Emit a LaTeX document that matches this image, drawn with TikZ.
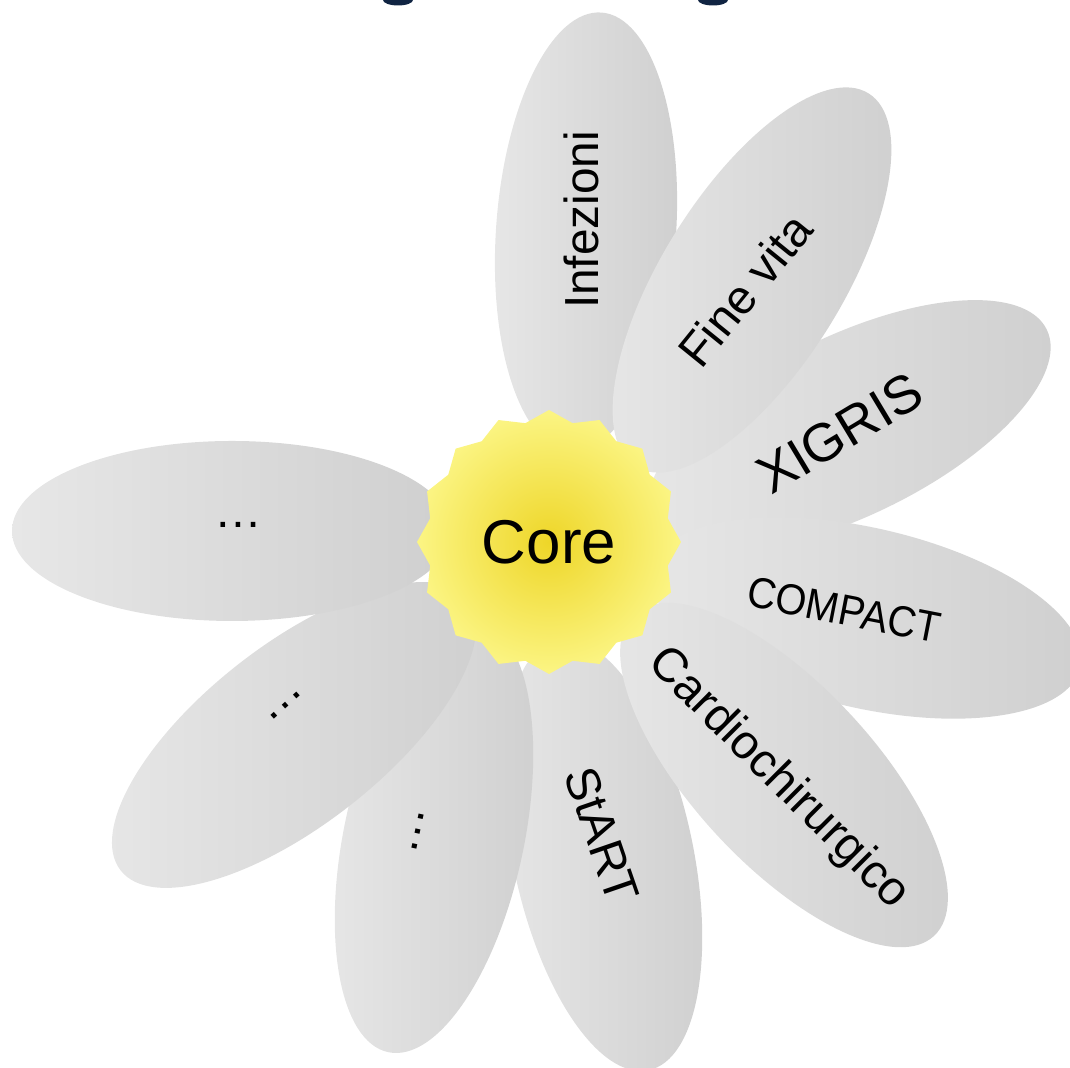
\documentclass[tikz,border=0pt]{standalone}
\usepackage{fontspec}
\setmainfont{Liberation Sans}
\usetikzlibrary{positioning,shapes.geometric}

\definecolor{petalLight}{RGB}{231,231,231}
\definecolor{petalDark}{RGB}{207,207,207}
\definecolor{coreIn}{RGB}{238,214,40}
\definecolor{coreOut}{RGB}{254,251,150}
\definecolor{titleBlue}{RGB}{16,36,66}

\pgfdeclareradialshading{coreglow}{\pgfpoint{0bp}{0bp}}{color(0bp)=(coreIn); color(30bp)=(coreOut); color(50bp)=(coreOut)}

\begin{document}
\begin{tikzpicture}[x=0.1mm, y=0.1mm,
  petal/.style={ellipse, inner sep=0pt, minimum width=44mm, minimum height=18mm, left color=petalLight, right color=petalDark},
  core/.style={star, star points=16, star point ratio=1.09, minimum size=26.4mm, inner sep=0pt, shade, shading=coreglow}]

\useasboundingbox (0,0) rectangle (1070,1068);
\clip (0,0) rectangle (1070,1068);

% bottoms of the title letters, cut by the top edge
\fill [titleBlue] (398,1068) ellipse [x radius=15, y radius=5.5];
\fill [titleBlue] (713,1068) ellipse [x radius=15, y radius=5.5];

% petals, back to front
\node [petal, rotate=86] (infezioni) at (586,836) {};
\node [petal, rotate=26] (xigris) at (849,642) {};
\node [petal, rotate=-13] (compact) at (866,450) {};
\node [petal, rotate=-78] (start) at (603,213) {};
\node [petal, rotate=78] (petalS) at (434,231) {};
\node [petal, rotate=38] (petalSW) at (294,333) {};
\node [petal] (petalW) at (232,537) {};
\node [petal, rotate=-47] (cardio) at (784,293) {};
\node [petal, rotate=58] (finevita) at (752,788) {};

% labels
\fontsize{13.6}{16}\selectfont
\node [rotate=90] (infezioniText) at (581,848) {Infezioni};
\node [rotate=51] (finevitaText) at (745,778) {Fine vita};
\node [rotate=-45] (cardioText) at (778,289) {Cardiochirurgico};
\node [rotate=-71] (startText) at (602,233) {StART};
\node (dotsW) at (238,543) {\dots};
\node [rotate=42] (dotsSW) at (286,362) {\dots};
\node [rotate=78] (dotsS) at (418,236) {\dots};

\fontsize{15.3}{18}\selectfont
\node [rotate=31] (xigrisText) at (840,635) {XIGRIS};

\fontsize{12.3}{14}\selectfont
\node [rotate=-11, xscale=0.92] (compactText) at (844,458) {COMPACT};

% centre of the flower
\fontsize{17.6}{20}\selectfont
\node [core] (core) at (549,526) {Core};

\end{tikzpicture}
\end{document}
